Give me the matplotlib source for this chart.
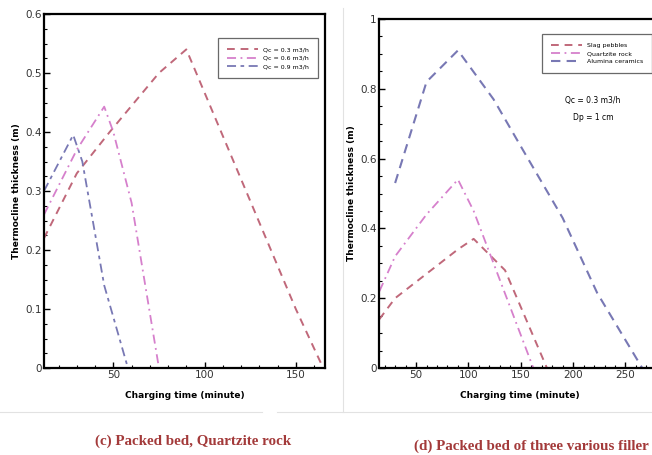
import matplotlib
matplotlib.use("Agg")
import matplotlib.pyplot as plt
from matplotlib.ticker import MultipleLocator

# (c) packed bed, quartzite rock - three flow rates
t_q03 = [12, 30, 48, 75, 90, 120, 150, 165]
h_q03 = [0.22, 0.33, 0.40, 0.50, 0.54, 0.32, 0.10, 0.0]
t_q06 = [12, 30, 45, 50, 60, 75]
h_q06 = [0.26, 0.37, 0.443, 0.40, 0.28, 0.0]
t_q09 = [12, 28, 33, 45, 58]
h_q09 = [0.30, 0.395, 0.35, 0.14, 0.0]
labels_c = ["Qc = 0.3 m3/h", "Qc = 0.6 m3/h", "Qc = 0.9 m3/h"]

# (d) three filler materials
t_slag = [15, 30, 60, 90, 105, 135, 175]
h_slag = [0.14, 0.20, 0.27, 0.34, 0.37, 0.28, 0.0]
t_quartz = [15, 30, 60, 90, 105, 162]
h_quartz = [0.22, 0.32, 0.44, 0.54, 0.45, 0.0]
t_alum = [30, 60, 90, 124, 152, 190, 223, 266]
h_alum = [0.53, 0.82, 0.91, 0.77, 0.625, 0.43, 0.215, 0.0]
labels_d = ["Slag pebbles", "Quartzite rock", "Alumina ceramics"]

red = "#c0687a"
pink = "#d680cc"
blue = "#7878b4"

fig = plt.figure(figsize=(6.52, 4.55), dpi=100)

ax1 = fig.add_axes([44/652, 87/455, 281/652, 354/455])
ax2 = fig.add_axes([379/652, 87/455, 281/652, 349/455])


def style(ax):
    for s in ax.spines.values():
        s.set_linewidth(1.6)
    ax.tick_params(which="both", direction="in", labelsize=7.5,
                   labelcolor="#333333", pad=1.5)
    ax.tick_params(which="major", length=4, width=1)
    ax.tick_params(which="minor", length=2.5, width=0.8)
    ax.set_xlabel("Charging time (minute)", fontsize=6.5, fontweight="bold",
                  labelpad=8)
    ax.set_ylabel("Thermocline thickness (m)", fontsize=6.5,
                  fontweight="bold", labelpad=3)


ax1.plot(t_q03, h_q03, color=red, lw=1.4, dashes=(4, 3), label=labels_c[0])
ax1.plot(t_q06, h_q06, color=pink, lw=1.3, dashes=(5, 2.5, 1, 2.5), label=labels_c[1])
ax1.plot(t_q09, h_q09, color=blue, lw=1.3, dashes=(5, 2.5, 2, 2.5), label=labels_c[2])
ax1.set_xlim(12, 166)
ax1.set_ylim(0, 0.6)
ax1.xaxis.set_major_locator(MultipleLocator(50))
ax1.xaxis.set_minor_locator(MultipleLocator(10))
ax1.yaxis.set_minor_locator(MultipleLocator(0.025))
ax1.set_yticks([0, 0.1, 0.2, 0.3, 0.4, 0.5, 0.6])
ax1.set_yticklabels(["0", "0.1", "0.2", "0.3", "0.4", "0.5", "0.6"])
style(ax1)
leg1 = ax1.legend(loc="upper right", bbox_to_anchor=(0.985, 0.94),
                  fontsize=4.5, handlelength=5, frameon=True, fancybox=False,
                  edgecolor="#444444", borderpad=1.4, labelspacing=0.5)
leg1.get_frame().set_linewidth(0.9)

ax2.plot(t_slag, h_slag, color=red, lw=1.4, dashes=(4, 3), label=labels_d[0])
ax2.plot(t_quartz, h_quartz, color=pink, lw=1.3, dashes=(5, 2.5, 1, 2.5), label=labels_d[1])
ax2.plot(t_alum, h_alum, color=blue, lw=1.5, dashes=(4.5, 3), label=labels_d[2])
ax2.set_xlim(14.6, 283)
ax2.set_ylim(0, 1)
ax2.xaxis.set_major_locator(MultipleLocator(50))
ax2.xaxis.set_minor_locator(MultipleLocator(10))
ax2.yaxis.set_minor_locator(MultipleLocator(0.05))
ax2.set_yticks([0, 0.2, 0.4, 0.6, 0.8, 1.0])
ax2.set_yticklabels(["0", "0.2", "0.4", "0.6", "0.8", "1"])
style(ax2)
ax2.spines["right"].set_visible(False)
leg2 = ax2.legend(loc="upper left", bbox_to_anchor=(0.57, 0.965),
                  fontsize=4.5, handlelength=5, frameon=True, fancybox=False,
                  edgecolor="#444444", borderpad=1.4, labelspacing=0.4)
leg2.get_frame().set_linewidth(0.9)
ax2.text(214/281, 1 - 82/349, "Qc = 0.3 m3/h", transform=ax2.transAxes,
         fontsize=5.5, ha="center", va="center")
ax2.text(214/281, 1 - 99/349, "Dp = 1 cm", transform=ax2.transAxes,
         fontsize=5.5, ha="center", va="center")

# faint panel borders from the source page
fig.add_artist(plt.Line2D([343/652, 343/652], [1 - 8/455, 1 - 412/455],
                          color="#e2e2e2", lw=0.8))
fig.add_artist(plt.Line2D([0, 262/652], [1 - 412/455, 1 - 412/455],
                          color="#e2e2e2", lw=0.8))
fig.add_artist(plt.Line2D([277/652, 1], [1 - 412/455, 1 - 412/455],
                          color="#e2e2e2", lw=0.8))

cap = dict(color="#a33a3a", fontsize=10.8, fontweight="bold",
           family="Liberation Serif", ha="center", va="center")
fig.text(193/652, 1 - 441/455, "(c) Packed bed, Quartzite rock", **cap)
fig.text(414/652, 1 - 446/455, "(d) Packed bed of three various filler",
         **dict(cap, ha="left"))

fig.savefig("out.png", dpi=100)
